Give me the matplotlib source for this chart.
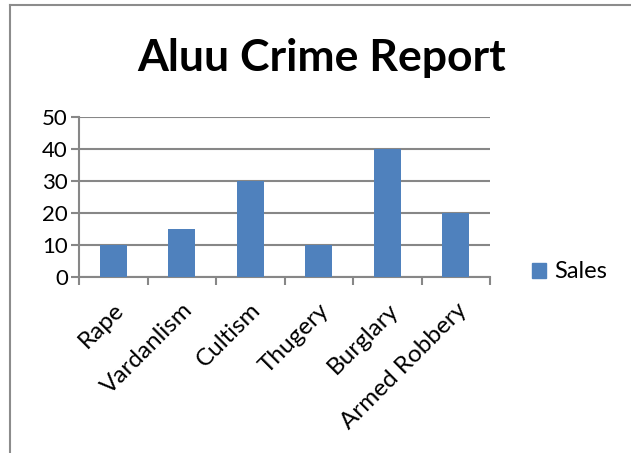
import matplotlib

matplotlib.use("Agg")
import matplotlib.pyplot as plt
from matplotlib.lines import Line2D
from matplotlib.patches import Patch

categories = ["Rape", "Vardanlism", "Cultism", "Thugery", "Burglary", "Armed Robbery"]
sales = [10, 15, 30, 10, 40, 20]
yticks = [0, 10, 20, 30, 40, 50]

plt.rcParams["font.family"] = ["Lato", "DejaVu Sans"]
BLUE = "#4F81BD"
GRID = "#878787"

fig = plt.figure(figsize=(6.31, 4.53), dpi=100)
ax = fig.add_axes([79 / 631, 1 - 277 / 453, 411 / 631, 160 / 453])

x = range(len(categories))
ax.bar(x, sales, width=0.4, color=BLUE, zorder=3)
ax.set_xlim(-0.5, len(categories) - 0.5)
ax.set_ylim(0, 50)
ax.set_yticks(yticks)
ax.yaxis.grid(True, color=GRID, linewidth=1.5, zorder=0)

# category labels sit between boundary ticks (Excel style)
ax.set_xticks([i + 0.5 for i in range(-1, len(categories))])
ax.set_xticklabels([])
ax.set_xticks(list(x), minor=True)
ax.set_xticklabels(categories, minor=True, rotation=45, ha="right",
                   rotation_mode="anchor", fontsize=17.5)
ax.tick_params(axis="x", which="minor", length=0, pad=16)
ax.tick_params(axis="x", which="major", length=6, width=1.5, color=GRID)
ax.tick_params(axis="y", length=6, width=1.5, color=GRID, labelsize=16, pad=2)

for side in ("top", "right"):
    ax.spines[side].set_visible(False)
for side in ("left", "bottom"):
    ax.spines[side].set_color(GRID)
    ax.spines[side].set_linewidth(1.5)

fig.text(322 / 631, 1 - 71 / 453, "Aluu Crime Report", ha="center", va="baseline",
         fontsize=32, fontweight="bold")

fig.legend(handles=[Patch(color=BLUE, label="Sales")], loc="center left",
           bbox_to_anchor=(511 / 631, 1 - 272 / 453), frameon=False,
           fontsize=17, handlelength=0.6, handleheight=0.6, handletextpad=0.35)

# outer chart border (only left and top edges show in the crop)
fig.add_artist(Line2D([10 / 631, 10 / 631], [0, 1 - 5 / 453], color="#8c8c8c", linewidth=1.5))
fig.add_artist(Line2D([10 / 631, 1], [1 - 5 / 453, 1 - 5 / 453], color="#8c8c8c", linewidth=1.5))

fig.savefig("out.png", dpi=100)
